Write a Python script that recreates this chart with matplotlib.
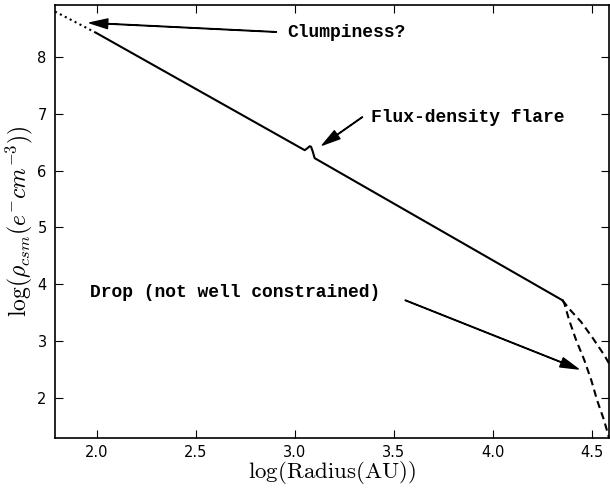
import numpy as np
import matplotlib
matplotlib.use('Agg')
import matplotlib.pyplot as plt

plt.rcParams['mathtext.fontset'] = 'cm'

# density profile
r_dot = [1.79, 2.0]
rho_dot = [8.80, 8.42]

r_main = [2.0, 3.05, 3.065, 3.075, 3.082, 3.09, 3.10, 4.35]
rho_main = [8.42, 6.36, 6.40, 6.43, 6.42, 6.34, 6.22, 3.72]

r_drop1 = [4.35, 4.389, 4.444, 4.50, 4.56, 4.60]
rho_drop1 = [3.72, 3.55, 3.34, 3.07, 2.76, 2.52]

r_drop2 = [4.35, 4.359, 4.384, 4.419, 4.46, 4.495, 4.525, 4.56, 4.585]
rho_drop2 = [3.72, 3.67, 3.37, 3.02, 2.67, 2.32, 1.96, 1.61, 1.30]

fig = plt.figure(figsize=(6.1, 4.88), dpi=100)
ax = fig.add_axes([55/610, 1 - 438/488, (609 - 55)/610, (438 - 5)/488])

ax.plot(r_dot, rho_dot, 'k:', lw=1.5)
ax.plot(r_main, rho_main, 'k-', lw=1.5)
ax.plot(r_drop1, rho_drop1, 'k--', lw=1.5, dashes=(3.5, 2.2))
ax.plot(r_drop2, rho_drop2, 'k--', lw=1.5, dashes=(3.5, 2.2))

arrow = dict(facecolor='black', edgecolor='black', width=0.4, headwidth=7, headlength=13, shrink=0)
txt = dict(family='Liberation Mono', weight='bold', fontsize=13, va='center')

ax.annotate('', xy=(1.965, 8.60), xytext=(2.907, 8.44), arrowprops=arrow)
ax.text(2.963, 8.43, 'Clumpiness?', **txt)

ax.annotate('', xy=(3.139, 6.45), xytext=(3.341, 6.944), arrowprops=arrow)
ax.text(3.386, 6.93, 'Flux-density flare', **txt)

ax.annotate('', xy=(4.43, 2.51), xytext=(3.557, 3.72), arrowprops=arrow)
ax.text(1.965, 3.86, 'Drop (not well constrained)', **txt)

ax.set_xlim(1.79, 4.585)
ax.set_ylim(1.296, 8.915)
ax.set_xticks([2.0, 2.5, 3.0, 3.5, 4.0, 4.5])
ax.set_yticks([2, 3, 4, 5, 6, 7, 8])
ax.tick_params(direction='in', top=True, right=True, length=6, labelsize=10.5, pad=5)
ax.tick_params(axis='y', pad=6)
for s in ax.spines.values():
    s.set_linewidth(1.2)

ax.set_xlabel(r'$\log(\mathrm{Radius(AU)})$', fontsize=16.5, labelpad=-1)
ax.set_ylabel(r'$\log(\rho_{csm}(e^{-}cm^{-3}))$', fontsize=17, labelpad=2)

fig.savefig('out.png', dpi=100)
